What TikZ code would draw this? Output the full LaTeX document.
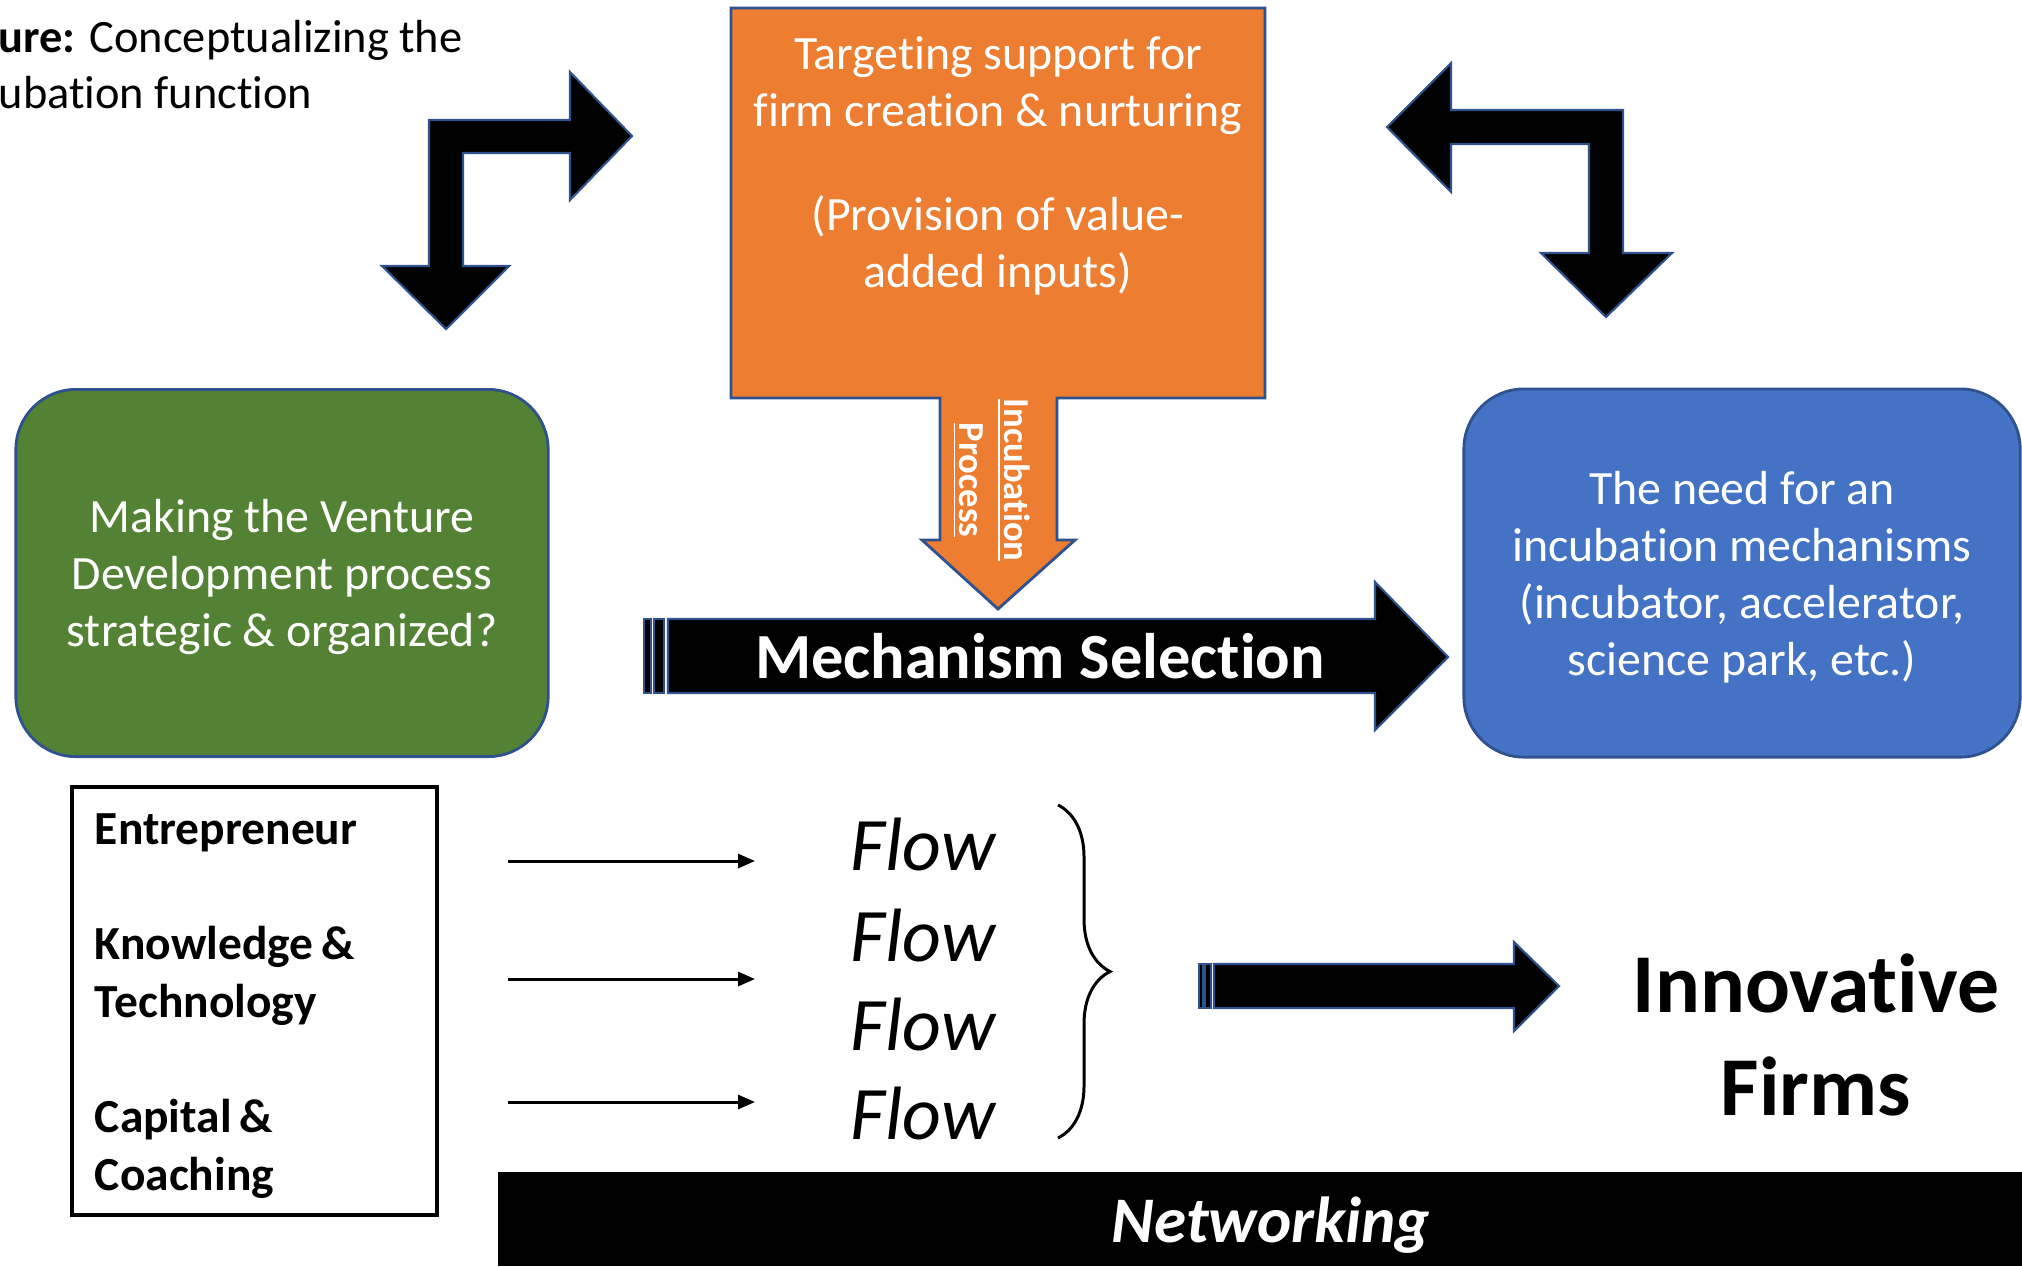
\documentclass[tikz,border=0pt]{standalone}
\usepackage{fontspec}
\setmainfont{Carlito}[Ligatures={NoCommon}]
\usepackage{tikz}
\usepackage{xcolor}
\usetikzlibrary{positioning, arrows.meta, decorations.pathreplacing}
\definecolor{ivorange}{RGB}{237, 125, 49}
\definecolor{ivgreen}{RGB}{84, 130, 53}
\definecolor{ivblue}{RGB}{68, 114, 196}
\definecolor{ivedge}{RGB}{47, 82, 143}
\tikzset{
    shapearrow/.style={fill=black, draw=ivedge, line width=0.6pt},
    roundbox/.style={rounded corners=0.6cm, draw=ivedge, line width=0.8pt, text=white, align=center, text depth=0pt, font=\fontsize{13.6}{16.2}\selectfont},
    greenbox/.style={roundbox, fill=ivgreen},
    bluebox/.style={roundbox, fill=ivblue},
    flowarrow/.style={line width=0.85pt, -{Triangle[length=0.17cm, width=0.14cm]}},
    flowtext/.style={font=\fontsize{21.5}{25}\selectfont\itshape},
    captext/.style={anchor=base west, inner sep=0pt, font=\fontsize{13.2}{16.1}\selectfont}
}

\begin{document}
\begin{tikzpicture}[x=0.01cm, y=-0.01cm]
    \useasboundingbox (0,0) rectangle (2022,1266);

    % caption
    \node[captext] (cap1) at (-2,52) {\textbf{ure:} Conceptualizing the};
    \node[captext] (cap2) at (-2,108) {ubation function};

    % orange box with the incubation arrow
    \draw[fill=ivorange, draw=ivedge, line width=0.8pt] (731,8) -- (1265,8) -- (1265,398) -- (1057,398)
        -- (1057,540) -- (1075,540) -- (998,609) -- (922,540) -- (940,540) -- (940,398) -- (731,398) -- cycle;
    \node[align=center, text=white, font=\fontsize{13.6}{16.1}\selectfont] (target) at (998,166)
        {Targeting support for\\firm creation \& nurturing\\[13.6pt](Provision of value-\\added inputs)};
    \node[rotate=-90, align=center, text=white, font=\fontsize{10.4}{12.7}\selectfont\bfseries] (incub) at (991,480)
        {\underline{Incubation}\\\underline{Process}};

    % bent arrows
    \draw[shapearrow] (429,266) -- (429,120) -- (570,120) -- (570,72) -- (632,136) -- (570,200) -- (570,153)
        -- (463,153) -- (463,266) -- (509,266) -- (446,329) -- (382,266) -- cycle;
    \draw[shapearrow] (1387,127) -- (1451,63) -- (1451,110) -- (1623,110) -- (1623,253) -- (1672,253)
        -- (1606,317) -- (1541,253) -- (1589,253) -- (1589,144) -- (1451,144) -- (1451,192) -- cycle;

    % side boxes
    \node[greenbox, minimum width=5.32cm, minimum height=3.67cm] (venture) at (282,573)
        {Making the Venture\\Development process\\strategic \& organized?};
    \node[bluebox, minimum width=5.56cm, minimum height=3.68cm] (need) at (1742,573)
        {The need for an\\incubation mechanisms\\(incubator, accelerator,\\science park, etc.)};

    % mechanism selection
    \draw[shapearrow] (644,619) rectangle (651,693);
    \draw[shapearrow] (654,619) rectangle (664,693);
    \draw[shapearrow] (668,619) -- (1375,619) -- (1375,582) -- (1448,657) -- (1375,730) -- (1375,693) -- (668,693) -- cycle;
    \node[text=white, font=\fontsize{18.3}{21}\selectfont\bfseries] (mech) at (1040,656) {Mechanism Selection};

    % inputs
    \node[draw, line width=1.1pt, minimum width=3.65cm, minimum height=4.28cm] (inputs) at (254.5,1001) {};
    \node[text width=3.19cm, align=left, font=\fontsize{13.5}{16.4}\selectfont\bfseries] (inputlist) at (254.5,1006)
        {Entrepreneur\\[16.4pt]Knowledge\,\&\\Technology\\[16.4pt]Capital\,\&\\Coaching};

    \foreach \i/\y in {1/861, 2/979, 3/1102} {
        \coordinate (src\i) at (508,\y);
        \coordinate (dst\i) at (755,\y);
        \draw[flowarrow] (src\i) -- (dst\i);
    }

    \foreach \i/\y in {1/870, 2/961, 3/1050, 4/1139}
        \node[flowtext, anchor=base] (flow\i) at (923,\y) {Flow};

    \coordinate (bracetop) at (1058,805);
    \coordinate (bracebot) at (1058,1138);
    \draw[line width=0.85pt, decorate, decoration={brace, amplitude=0.52cm}] (bracetop) -- (bracebot);

    % output arrow
    \draw[shapearrow] (1199,964) rectangle (1203,1008);
    \draw[shapearrow] (1205,964) rectangle (1211,1008);
    \draw[shapearrow] (1214,964) -- (1514,964) -- (1514,942) -- (1559,986) -- (1514,1031) -- (1514,1008) -- (1214,1008) -- cycle;

    \node[align=center, font=\fontsize{23.8}{29.3}\selectfont\bfseries] (firms) at (1816,1035) {Innovative\\Firms};

    % networking bar
    \fill[black] (498,1172) rectangle (2022,1266);
    \node[anchor=base, text=white, font=\fontsize{18.5}{22}\selectfont\bfseries\itshape] (network) at (1271,1242) {Networking};
\end{tikzpicture}
\end{document}
